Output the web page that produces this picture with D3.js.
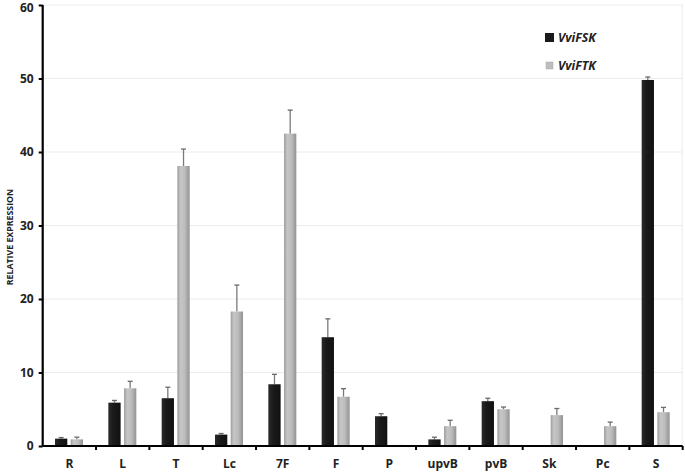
<!DOCTYPE html>
<html><head><meta charset="utf-8">
<script src="https://cdn.jsdelivr.net/npm/d3@7"></script>
<style>body{margin:0;background:#fff}svg{display:block}text{font-family:"Open Sans","DejaVu Sans",sans-serif}</style>
</head><body><svg id="c" width="685" height="472"></svg>
<script>
const categories = ["R","L","T","Lc","7F","F","P","upvB","pvB","Sk","Pc","S"];
const seriesNames = ["VviFSK","VviFTK"];
const fskValues = [1.0, 5.9, 6.5, 1.55, 8.4, 14.8, 4.05, 0.9, 6.1, null, null, 49.8];
const fskErrors = [0.15, 0.3, 1.5, 0.15, 1.35, 2.5, 0.35, 0.3, 0.4, null, null, 0.4];
const ftkValues = [0.9, 7.85, 38.1, 18.3, 42.5, 6.7, 0.15, 2.7, 5.0, 4.2, 2.7, 4.6];
const ftkErrors = [0.3, 0.95, 2.3, 3.6, 3.2, 1.1, 0.0, 0.8, 0.3, 0.9, 0.55, 0.65];
const yTicks = [0,10,20,30,40,50,60];

const svg = d3.select("#c");
const m = {l:42.7, r:682.7, t:5, b:446};
const x = d3.scaleBand().domain(categories).range([m.l, m.r]).paddingInner(0).paddingOuter(0);
const y = d3.scaleLinear().domain([0,60]).range([m.b, m.t]);

const defs = svg.append("defs");
const gg = defs.append("linearGradient").attr("id","gGray").attr("x1","0").attr("x2","1").attr("y1","0").attr("y2","0");
gg.append("stop").attr("offset","0").attr("stop-color","#9c9c9c");
gg.append("stop").attr("offset","0.25").attr("stop-color","#c6c6c6");
gg.append("stop").attr("offset","0.6").attr("stop-color","#bcbcbc");
gg.append("stop").attr("offset","1").attr("stop-color","#929292");
const gb = defs.append("linearGradient").attr("id","gBlack").attr("x1","0").attr("x2","1").attr("y1","0").attr("y2","0");
gb.append("stop").attr("offset","0").attr("stop-color","#2a2a2a");
gb.append("stop").attr("offset","0.4").attr("stop-color","#1a1a1a");
gb.append("stop").attr("offset","1").attr("stop-color","#111");

// gridlines
svg.append("g").selectAll("line").data(yTicks.filter(d=>d>0)).join("line")
  .attr("x1", m.l).attr("x2", m.r).attr("y1", d=>y(d)).attr("y2", d=>y(d))
  .attr("stroke","#ececec").attr("stroke-width",1);
svg.append("line").attr("x1",m.r-0.5).attr("x2",m.r-0.5).attr("y1",m.t).attr("y2",m.b).attr("stroke","#ececec");

const bw = 12.3, gap = 3.4, off = 12.3;
const series = [
  {vals: fskValues, errs: fskErrors, fill:"url(#gBlack)", dx: off},
  {vals: ftkValues, errs: ftkErrors, fill:"url(#gGray)", dx: off+bw+gap}
];
series.forEach(s => {
  const data = categories.map((c,i)=>({c, v:s.vals[i], e:s.errs[i]})).filter(d=>d.v!=null);
  const g = svg.append("g");
  g.selectAll("line.e").data(data.filter(d=>d.e>0)).join("line")
    .attr("x1", d=>x(d.c)+s.dx+bw/2).attr("x2", d=>x(d.c)+s.dx+bw/2)
    .attr("y1", d=>y(d.v)).attr("y2", d=>y(d.v+d.e)).attr("stroke","#7a7a7a").attr("stroke-width",1.3);
  g.selectAll("line.c").data(data.filter(d=>d.e>0)).join("line")
    .attr("x1", d=>x(d.c)+s.dx+bw/2-2.5).attr("x2", d=>x(d.c)+s.dx+bw/2+2.5)
    .attr("y1", d=>y(d.v+d.e)).attr("y2", d=>y(d.v+d.e)).attr("stroke","#6a6a6a").attr("stroke-width",1.3);
  g.selectAll("rect").data(data).join("rect")
    .attr("x", d=>x(d.c)+s.dx).attr("width", bw)
    .attr("y", d=>y(d.v)).attr("height", d=>y(0)-y(d.v))
    .attr("fill", s.fill);
});

// y axis
const ya = svg.append("g").attr("transform",`translate(${m.l},0)`)
  .call(d3.axisLeft(y).tickValues(yTicks).tickSize(4).tickPadding(5));
ya.select(".domain").attr("stroke","#000").attr("stroke-width",2.2).attr("d",`M0,${m.t}V${m.b}`);
ya.selectAll(".tick line").attr("stroke","#000").attr("stroke-width",2);
ya.selectAll(".tick text").attr("font-size",12).attr("font-weight","bold").attr("fill","#222");
ya.selectAll(".tick text").filter(d=>d===60).attr("dy","0.5em");

// x axis
const xa = svg.append("g").attr("transform",`translate(0,${m.b})`)
  .call(d3.axisBottom(x).tickSize(0).tickPadding(13));
xa.select(".domain").attr("stroke","#000").attr("stroke-width",2.2).attr("d",`M${m.l},0H${m.r}`);
xa.selectAll(".tick text").attr("font-size",12).attr("font-weight","bold").attr("fill","#222");
svg.append("g").selectAll("line").data(categories.slice(1).concat(["__end"])).join("line")
  .attr("x1", d=> d==="__end" ? m.r : x(d)).attr("x2", d=> d==="__end" ? m.r : x(d))
  .attr("y1", m.b).attr("y2", m.b+4).attr("stroke","#000").attr("stroke-width",2);

// y title
svg.append("text").attr("transform","translate(13,237) rotate(-90)")
  .attr("text-anchor","middle").attr("font-size",8.8).attr("font-weight","bold").attr("fill","#222")
  .text("RELATIVE EXPRESSION");

// legend
const lg = svg.append("g");
lg.append("rect").attr("x",545).attr("y",33).attr("width",9).attr("height",9).attr("fill","#1a1a1a");
lg.append("rect").attr("x",546).attr("y",62).attr("width",7).attr("height",7).attr("fill","#bdbdbd").attr("stroke","#aaa").attr("stroke-width",0.5);
lg.selectAll("text").data(seriesNames).join("text")
  .attr("x",558).attr("y",(d,i)=>42+i*28).attr("font-size",12.3).attr("font-weight","bold").attr("font-style","italic").attr("fill","#222")
  .text(d=>d);
</script></body></html>
